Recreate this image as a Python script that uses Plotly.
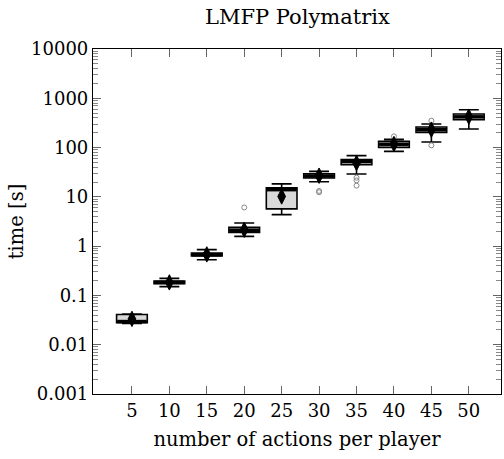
import plotly.graph_objects as go

actions = [5, 10, 15, 20, 25, 30, 35, 40, 45, 50]
lower_whisker = [0.027, 0.151, 0.53, 1.58, 4.35, 20.3, 29.1, 83.7, 130, 238]
q1 = [0.028, 0.172, 0.63, 1.9, 5.7, 24.2, 45, 101, 203, 368]
median = [0.0295, 0.184, 0.67, 2.1, 14.0, 26.5, 52.5, 117, 231, 420]
q3 = [0.041, 0.196, 0.72, 2.4, 15.2, 29.5, 56.9, 134, 262, 480]
upper_whisker = [0.042, 0.222, 0.85, 2.95, 18.3, 32.9, 68.5, 147, 301, 587]
mean = [0.0334, 0.184, 0.68, 2.15, 10.2, 26.9, 48.7, 118, 231, 424]

outlier_x = [20, 30, 30, 35, 35, 35, 40, 45, 45]
outlier_y = [6.1, 12.4, 13.2, 24.5, 21.6, 16.9, 169, 351, 111]

ytick_vals = [0.001, 0.01, 0.1, 1, 10, 100, 1000, 10000]
ytick_text = ["0.001", "0.01", "0.1", "1", "10", "100", "1000", "10000"]
minor_vals = [m * d for d in ytick_vals[:-1] for m in range(2, 10)]

FONT = "DejaVu Serif"

fig = go.Figure()
fig.add_trace(go.Box(
    x=actions, q1=q1, median=median, q3=q3,
    lowerfence=lower_whisker, upperfence=upper_whisker,
    width=4.1, whiskerwidth=0.65, boxpoints=False,
    fillcolor="#d9d9d9", line=dict(color="black", width=1.6),
    showlegend=False,
))
fig.add_trace(go.Scatter(
    x=actions, y=median, mode="markers",
    marker=dict(symbol="line-ew", size=21, line=dict(color="black", width=3.5)),
    showlegend=False,
))
fig.add_trace(go.Scatter(
    x=outlier_x, y=outlier_y, mode="markers",
    marker=dict(symbol="circle-open", size=5, color="#888888", line=dict(width=1)),
    showlegend=False,
))
fig.add_trace(go.Scatter(
    x=actions, y=mean, mode="markers",
    marker=dict(symbol="diamond-tall", size=11, color="black", line=dict(color="black", width=1)),
    showlegend=False,
))

fig.update_layout(
    width=504, height=459,
    margin=dict(l=93, r=3, t=49, b=65),
    paper_bgcolor="white", plot_bgcolor="white",
    font=dict(family=FONT, size=18, color="black"),
    title=dict(text="LMFP Polymatrix", x=0.59, xanchor="center", y=0.963, yanchor="middle",
               font=dict(family=FONT, size=21)),
)
fig.update_xaxes(
    range=[-0.2, 54.3], tickvals=actions, ticktext=[str(a) for a in actions],
    ticks="inside", ticklen=8, tickcolor="#666", tickwidth=1,
    tickfont=dict(size=18),
    showline=True, linecolor="black", linewidth=1.2, mirror="allticks",
    showgrid=False, zeroline=False,
    title=dict(text="number of actions per player", standoff=12, font=dict(size=19.5)),
)
fig.update_yaxes(
    type="log", range=[-3, 4], tickvals=ytick_vals, ticktext=ytick_text,
    ticks="inside", ticklen=8, tickcolor="#666", tickwidth=1,
    tickfont=dict(size=18),
    minor=dict(ticks="inside", ticklen=5, tickcolor="#888", tickvals=minor_vals, showgrid=False),
    showline=True, linecolor="black", linewidth=1.2, mirror="allticks",
    showgrid=False, zeroline=False,
    title=dict(text="time [s]", standoff=2, font=dict(size=19.5)),
)

fig.write_html("out.html")
